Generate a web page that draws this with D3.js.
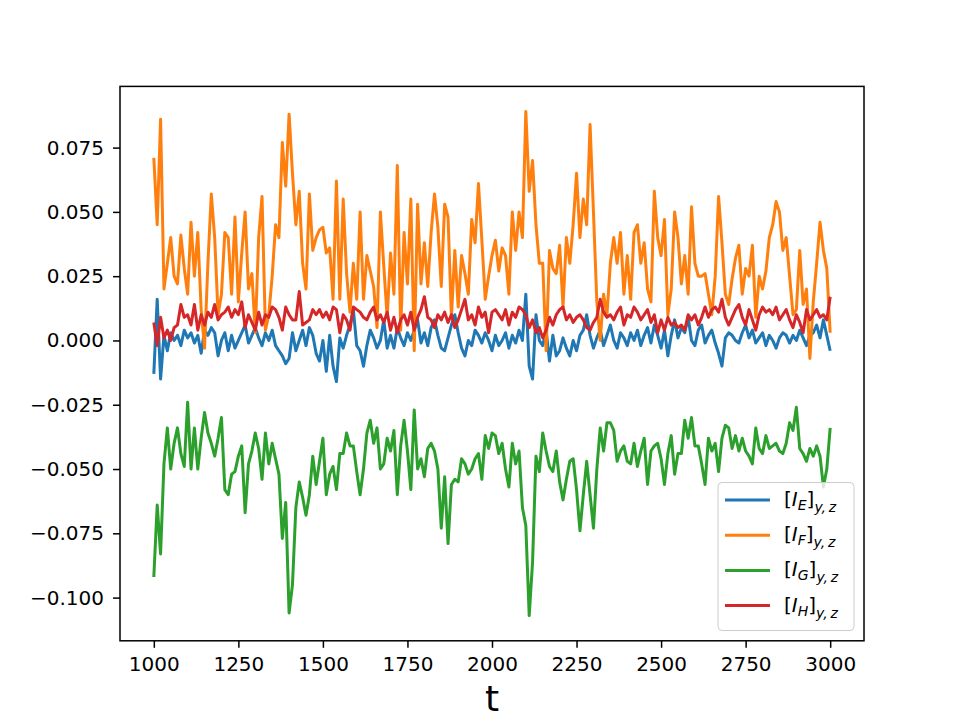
<!DOCTYPE html>
<html><head><meta charset="utf-8">
<script src="https://cdn.jsdelivr.net/npm/d3@7"></script>
<style>body{margin:0;background:#fff} svg{display:block} text{font-family:"DejaVu Sans",sans-serif}</style>
</head><body><svg id="c" width="960" height="720"></svg>
<script>
// time grid of the samples
const tStart = 1000, tEnd = 3000, tStep = 10;

// [I_E]_{y,z}
const seriesE = [
-0.013,0.016,-0.015,0.002,-0.004,0.003,0.000,0.002,-0.002,0.004,
0.001,0.003,-0.001,0.002,-0.005,0.004,0.002,0.005,0.003,-0.006,
0.000,0.003,-0.004,0.002,-0.003,0.000,0.003,0.006,-0.001,0.002,
0.005,0.001,-0.002,0.003,0.000,0.004,-0.002,-0.004,-0.006,-0.009,
-0.007,0.003,-0.004,0.000,0.004,-0.002,0.005,0.002,-0.005,-0.008,
0.000,-0.012,0.002,-0.010,-0.016,0.001,-0.003,0.002,0.006,0.012,
-0.002,-0.004,-0.010,-0.002,0.004,0.001,-0.003,0.000,0.008,-0.003,
0.002,-0.003,0.005,0.001,-0.002,0.003,0.000,0.004,0.008,-0.001,
0.003,-0.002,0.005,0.008,0.002,-0.003,-0.004,0.001,0.006,0.010,
0.003,-0.003,-0.006,0.000,-0.002,0.004,0.002,-0.001,0.003,0.000,
-0.004,0.002,-0.002,0.000,0.003,-0.003,0.002,-0.001,0.004,0.000,
0.018,-0.010,-0.015,0.010,0.000,-0.002,0.004,-0.008,0.002,-0.006,
-0.004,0.001,-0.003,-0.006,0.000,-0.004,0.002,0.004,0.010,0.002,
-0.003,0.001,0.004,-0.002,0.002,0.006,0.000,-0.003,0.003,0.001,
-0.002,0.003,0.000,0.004,-0.002,0.002,0.005,-0.001,0.006,0.002,
-0.003,0.004,-0.006,0.002,0.008,0.001,0.005,0.003,0.009,0.000,
-0.002,0.004,0.006,-0.001,0.002,0.004,-0.001,-0.005,-0.010,0.001,
0.003,0.002,0.000,-0.001,0.003,0.006,0.001,0.004,-0.001,0.001,
0.003,-0.002,0.002,0.000,-0.003,0.001,0.003,0.002,-0.001,0.002,
0.000,0.004,0.001,-0.002,0.002,0.003,0.006,0.001,0.008,0.002,
-0.004];

// [I_F]_{y,z}
const seriesF = [
0.071,0.045,0.086,0.020,0.030,0.040,0.025,0.022,0.041,0.028,
0.018,0.046,0.025,0.042,0.012,-0.003,0.030,0.057,0.040,0.010,
0.018,0.042,0.040,0.018,0.048,0.015,0.034,0.050,0.020,0.026,
0.003,0.040,0.056,0.004,0.010,0.025,0.045,0.040,0.077,0.060,
0.088,0.065,0.045,0.058,0.030,0.020,0.057,0.035,0.040,0.043,
0.044,0.034,0.036,0.016,0.062,0.016,0.055,0.026,0.011,0.030,
0.016,0.050,0.016,0.033,0.027,0.021,0.005,0.050,0.029,0.009,
0.034,0.018,0.068,0.004,0.042,0.022,0.055,-0.004,0.053,0.022,
0.038,0.021,0.042,0.057,0.044,0.021,0.053,0.048,0.009,0.035,
0.013,0.033,0.026,0.018,0.047,0.038,0.061,0.039,0.016,0.025,
0.033,0.039,0.027,0.036,0.033,0.018,0.050,0.035,0.050,0.040,
0.089,0.058,0.070,0.045,0.030,0.030,-0.004,0.035,0.028,0.026,
0.037,0.013,0.040,0.030,0.045,0.065,0.040,0.055,0.045,0.084,
0.050,0.015,0.000,0.018,0.010,0.030,0.040,0.030,0.042,0.018,
0.033,0.016,0.042,0.045,0.030,0.038,0.020,0.015,0.058,0.040,
0.033,0.047,0.010,0.020,0.050,0.040,0.022,0.033,0.018,0.052,
0.030,0.025,0.025,0.026,0.018,0.010,0.025,0.056,0.038,0.018,
0.014,0.024,0.032,0.037,0.018,0.028,0.025,0.037,0.009,0.025,
0.020,0.027,0.040,0.045,0.054,0.050,0.035,0.040,0.025,0.010,
0.012,0.035,0.014,0.020,-0.007,0.015,0.030,0.046,0.035,0.028,
0.003];

// [I_G]_{y,z}
const seriesG = [
-0.092,-0.064,-0.083,-0.048,-0.034,-0.050,-0.040,-0.034,-0.044,-0.049,
-0.024,-0.050,-0.034,-0.050,-0.038,-0.028,-0.036,-0.040,-0.045,-0.038,
-0.030,-0.058,-0.060,-0.052,-0.051,-0.045,-0.041,-0.067,-0.048,-0.043,
-0.036,-0.042,-0.054,-0.036,-0.048,-0.040,-0.046,-0.052,-0.077,-0.063,
-0.106,-0.095,-0.065,-0.055,-0.061,-0.068,-0.060,-0.045,-0.056,-0.047,
-0.038,-0.060,-0.052,-0.049,-0.058,-0.044,-0.044,-0.036,-0.041,-0.041,
-0.051,-0.060,-0.050,-0.036,-0.031,-0.040,-0.034,-0.050,-0.048,-0.038,
-0.043,-0.035,-0.060,-0.041,-0.031,-0.043,-0.058,-0.027,-0.050,-0.046,
-0.053,-0.042,-0.040,-0.043,-0.050,-0.073,-0.053,-0.079,-0.056,-0.054,
-0.055,-0.046,-0.048,-0.052,-0.050,-0.046,-0.044,-0.054,-0.037,-0.042,
-0.036,-0.037,-0.044,-0.040,-0.050,-0.057,-0.040,-0.048,-0.043,-0.065,
-0.072,-0.107,-0.086,-0.045,-0.051,-0.036,-0.043,-0.049,-0.051,-0.043,
-0.055,-0.062,-0.054,-0.047,-0.046,-0.058,-0.074,-0.060,-0.047,-0.060,
-0.073,-0.050,-0.034,-0.043,-0.032,-0.032,-0.035,-0.047,-0.043,-0.041,
-0.047,-0.048,-0.040,-0.049,-0.043,-0.038,-0.056,-0.043,-0.041,-0.040,
-0.046,-0.056,-0.044,-0.037,-0.052,-0.044,-0.044,-0.031,-0.038,-0.030,
-0.041,-0.041,-0.048,-0.056,-0.038,-0.043,-0.040,-0.051,-0.038,-0.033,
-0.034,-0.042,-0.037,-0.043,-0.038,-0.043,-0.045,-0.048,-0.034,-0.042,
-0.044,-0.037,-0.042,-0.041,-0.040,-0.043,-0.044,-0.040,-0.032,-0.035,
-0.026,-0.042,-0.044,-0.047,-0.042,-0.045,-0.041,-0.045,-0.057,-0.050,
-0.034];

// [I_H]_{y,z}
const seriesH = [
0.007,-0.002,0.009,0.001,0.004,0.000,0.005,0.006,0.014,0.009,
0.010,0.006,0.014,0.004,0.010,0.006,0.011,0.009,0.014,0.008,
0.010,0.011,0.013,0.009,0.012,0.010,0.015,0.005,0.010,0.007,
0.004,0.011,0.006,0.010,0.009,0.013,0.012,0.009,0.004,0.013,
0.010,0.008,0.008,0.019,0.006,0.007,0.008,0.012,0.010,0.012,
0.009,0.011,0.008,0.013,0.012,0.003,0.010,0.008,0.004,0.013,
0.012,0.011,0.009,0.008,0.011,0.013,0.008,0.010,0.007,0.011,
0.004,0.009,0.003,0.008,0.010,0.006,0.011,0.004,0.009,0.012,
0.017,0.009,0.008,0.005,0.010,0.008,0.011,0.007,0.010,0.005,
0.008,0.012,0.016,0.008,0.010,0.006,0.013,0.009,0.011,0.003,
0.011,0.012,0.010,0.008,0.012,0.006,0.011,0.009,0.013,0.012,
0.010,0.005,0.008,0.003,0.005,0.001,0.004,0.009,0.006,0.010,
0.012,0.013,0.008,0.010,0.007,0.009,0.010,0.008,0.005,0.004,
0.007,0.009,0.016,0.011,0.009,0.010,0.008,0.011,0.013,0.006,
0.010,0.009,0.013,0.011,0.008,0.010,0.012,0.007,0.010,0.003,
0.008,0.004,0.009,0.006,0.007,0.005,0.006,0.004,0.010,0.008,
0.010,0.006,0.009,0.013,0.009,0.012,0.013,0.011,0.016,0.009,
0.006,0.009,0.012,0.014,0.009,0.006,0.012,0.008,0.004,0.010,
0.013,0.011,0.012,0.010,0.013,0.008,0.010,0.012,0.008,0.005,
0.010,0.007,0.003,0.012,0.008,0.010,0.012,0.009,0.010,0.008,
0.017];

const seriesKeys = ["E", "F", "G", "H"];
const seriesColors = ["#1f77b4", "#ff7f0e", "#2ca02c", "#d62728"];
const xTickValues = [1000, 1250, 1500, 1750, 2000, 2250, 2500, 2750, 3000];
const yTickValues = [-0.100, -0.075, -0.050, -0.025, 0.000, 0.025, 0.050, 0.075];
const xLabel = "t";

const allSeries = [seriesE, seriesF, seriesG, seriesH];
const t = d3.range(tStart, tEnd + tStep / 2, tStep);

const svg = d3.select("#c");
const L = 120, R = 864, T = 86.4, B = 640.8;

const tPad = (tEnd - tStart) * 0.05;
const x = d3.scaleLinear().domain([tStart - tPad, tEnd + tPad]).range([L, R]);
const all = allSeries.flat();
const [vmin, vmax] = d3.extent(all);
const vPad = (vmax - vmin) * 0.05;
const y = d3.scaleLinear().domain([vmin - vPad, vmax + vPad]).range([B, T]);

const line = d3.line().x((d, i) => x(t[i])).y(d => y(d));

svg.append("g").selectAll("path").data(allSeries).join("path")
  .attr("d", d => line(d))
  .attr("fill", "none")
  .attr("stroke", (d, i) => seriesColors[i])
  .attr("stroke-width", 3)
  .attr("stroke-linejoin", "round");

// axes
const fmtY = d3.format(".3f");
const xAxis = svg.append("g").attr("transform", `translate(0,${B})`)
  .call(d3.axisBottom(x).tickValues(xTickValues).tickSize(7).tickPadding(9).tickFormat(d3.format("d")));
const yAxis = svg.append("g").attr("transform", `translate(${L},0)`)
  .call(d3.axisLeft(y).tickValues(yTickValues).tickSize(7).tickPadding(9).tickFormat(fmtY));
[xAxis, yAxis].forEach(g => {
  g.select(".domain").remove();
  g.selectAll("line").attr("stroke", "#000").attr("stroke-width", 1.5);
  g.selectAll("text").attr("font-family", "DejaVu Sans").attr("font-size", 20).attr("fill", "#000");
});
svg.append("rect").attr("x", L).attr("y", T).attr("width", R - L).attr("height", B - T)
  .attr("fill", "none").attr("stroke", "#000").attr("stroke-width", 1.5);

svg.append("text").attr("x", (L + R) / 2).attr("y", 711).attr("text-anchor", "middle")
  .attr("font-size", 36).attr("fill", "#000").text(xLabel);

// legend
const lg = svg.append("g");
lg.append("rect").attr("x", 718).attr("y", 482.5).attr("width", 136).attr("height", 148)
  .attr("rx", 4).attr("fill", "#fff").attr("fill-opacity", 0.8)
  .attr("stroke", "#cccccc").attr("stroke-width", 1);
seriesKeys.forEach((k, i) => {
  const cy = 500 + i * 35.2;
  lg.append("line").attr("x1", 725).attr("x2", 770).attr("y1", cy).attr("y2", cy)
    .attr("stroke", seriesColors[i]).attr("stroke-width", 3);
  const tx = lg.append("text").attr("x", 784).attr("y", cy + 6).attr("font-size", 20).attr("fill", "#000");
  tx.append("tspan").text("[");
  tx.append("tspan").attr("font-style", "italic").text("I");
  tx.append("tspan").attr("font-style", "italic").attr("font-size", 14).attr("dy", 4).text(k);
  tx.append("tspan").attr("dy", -4).text("]");
  tx.append("tspan").attr("font-style", "italic").attr("font-size", 14).attr("dy", 6).text("y,\u2009z");
});
</script>
</body></html>
